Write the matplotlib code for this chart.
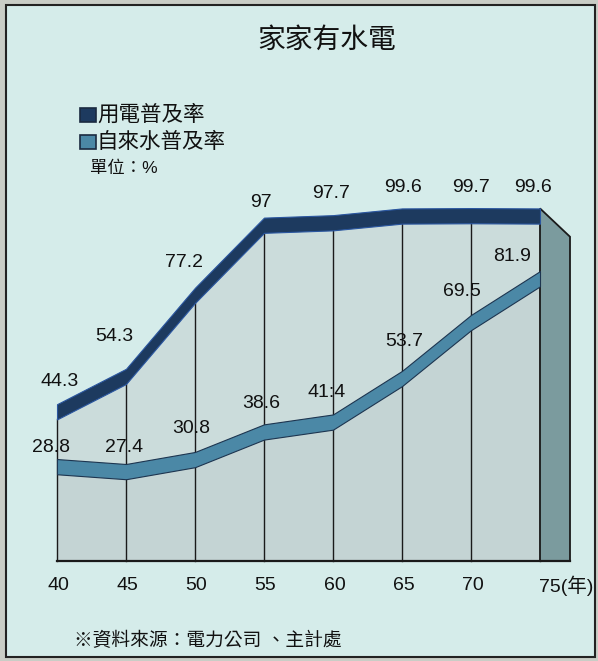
import matplotlib.pyplot as plt
from matplotlib.patches import Rectangle, Polygon
import numpy as np

plt.rcParams['font.family'] = ['Liberation Sans', 'Noto Sans CJK TC', 'DejaVu Sans']

years = [40, 45, 50, 55, 60, 65, 70, 75]
power = [44.3, 54.3, 77.2, 97, 97.7, 99.6, 99.7, 99.6]
water = [28.8, 27.4, 30.8, 38.6, 41.4, 53.7, 69.5, 81.9]
water_labels = ["28.8", "27.4", "30.8", "38.6", "41:4", "53.7", "69.5", "81.9"]
xticklabels = ["40", "45", "50", "55", "60", "65", "70", "75(年)"]

bg = '#d5ecea'
c_power = '#1d3a5f'
c_water = '#4b88a6'
c_side = '#7b9b9e'
c_area = '#cbdcdb'
c_area2 = '#c4d4d4'
band = 4.3

fig = plt.figure(figsize=(5.98, 6.61), dpi=100)
fig.patch.set_facecolor('#c9cdc6')
fig.patches.append(Rectangle((6/598, 4/661), 589/598, 652/661, transform=fig.transFigure,
                             facecolor=bg, edgecolor='#222222', lw=1.5, zorder=0))

ax = fig.add_axes([0, 0, 1, 1])
ax.set_zorder(1)
ax.set_facecolor('none')
ax.axis('off')
# pixel mapping: year 40 -> 57px, year 75 -> 540px ; 0% -> 100px from bottom, 3.54px per %
sx = 483 / 35
sy = 3.54
ax.set_xlim(40 - 57 / sx, 40 + 541 / sx)
ax.set_ylim(-100 / sy, 561 / sy)

x = np.array(years, dtype=float)
p = np.array(power)
w = np.array(water)

# area fills
ax.fill_between(x, 0, p - band, color=c_area, zorder=1, lw=0)
ax.fill_between(x, 0, w - band, color=c_area2, zorder=1, lw=0)

# vertical lines
for xi, pi in zip(x, p):
    ax.plot([xi, xi], [0, pi - band], color='#1a1a1a', lw=1, zorder=2)

# side panel
dx = 30 / sx
dy = 8
ax.add_patch(Polygon([(x[-1], p[-1]), (x[-1] + dx, p[-1] - dy), (x[-1] + dx, 0), (x[-1], 0)],
                     closed=True, facecolor=c_side, edgecolor='#1a1a1a', lw=1.3, zorder=3))
ax.plot([x[0], x[-1] + dx], [0, 0], color='#1a1a1a', lw=1.6, zorder=4)

# ribbons
ax.fill_between(x, w - band, w, color=c_water, edgecolor='#1d3550', lw=0.8, zorder=5)
ax.fill_between(x, p - band, p, color=c_power, edgecolor='#2a56a0', lw=0.8, zorder=5)

# value labels (offsets in years, percent)
p_off = [(0.2, 6.3), (-0.87, 9.0), (-0.8, 7.0), (-0.2, 4.4), (-0.15, 6.2), (0.07, 5.8), (0.0, 5.7), (-0.5, 5.8)]
w_off = [(-0.45, 3.3), (-0.15, 4.6), (-0.3, 6.5), (-0.2, 5.8), (-0.45, 6.3), (0.15, 8.2), (-0.65, 6.5), (-2.0, 4.2)]
for xi, v, (ox, oy) in zip(x, p, p_off):
    ax.text(xi + ox, v + oy, f"{v:g}", ha='center', va='center', fontsize=14, color='#111111', zorder=6)
for xi, v, lab, (ox, oy) in zip(x, w, water_labels, w_off):
    ax.text(xi + ox, v + oy, lab, ha='center', va='center', fontsize=14, color='#111111', zorder=6)

# x tick labels
for xi, lab in zip(x, xticklabels):
    if lab.startswith('75'):
        ax.text(xi - 0.05, -7.0, lab, ha='left', va='center', fontsize=14, color='#111111')
    else:
        ax.text(xi + 0.1, -7.0, lab, ha='center', va='center', fontsize=14, color='#111111')

# title and legend
fig.text(327 / 598, 1 - 41 / 661, "家家有水電", ha='center', va='center', fontsize=20, color='#111111')
for i, (lab, col) in enumerate([("用電普及率", c_power), ("自來水普及率", c_water)]):
    yy = 1 - (115 + 27 * i) / 661
    fig.patches.append(Rectangle((80 / 598, yy - 7 / 661), 16 / 598, 14 / 661, transform=fig.transFigure,
                                 facecolor=col, edgecolor='#1a2a40', lw=1.2, zorder=2))
    fig.text(97 / 598, yy, lab, ha='left', va='center', fontsize=15.5, color='#111111')
fig.text(90 / 598, 1 - 168 / 661, "單位：%", ha='left', va='center', fontsize=12.5, color='#111111')
fig.text(74 / 598, 1 - 641 / 661, "※資料來源：電力公司 、主計處", ha='left', va='center', fontsize=13.5, color='#111111')

fig.savefig('out.png', dpi=100, facecolor=fig.get_facecolor())
